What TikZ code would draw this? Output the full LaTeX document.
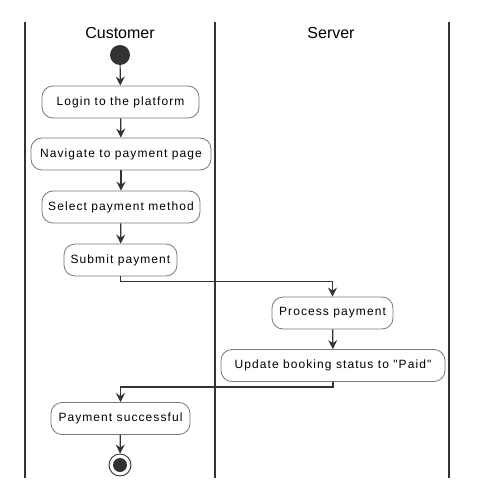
\documentclass[tikz,border=0pt]{standalone}
\usepackage{fontspec}
\setmainfont{Liberation Sans}
\newfontfamily\boxfont[LetterSpace=9]{Liberation Sans}
\definecolor{grisOscuro}{RGB}{51,51,51}
\definecolor{borde}{RGB}{120,120,120}
\usetikzlibrary{arrows.meta,positioning}
\tikzstyle{lane}  =[line width=1.8pt, grisOscuro]
\tikzstyle{title} =[font=\fontsize{16}{18}\selectfont]
\tikzstyle{action}=[draw=borde, rounded corners=11pt, line width=0.8pt,
                    minimum height=32pt, inner xsep=4pt,
                    font=\boxfont\fontsize{12}{14}\selectfont]
\tikzstyle{flow}  =[grisOscuro, line width=1.2pt,
                    -{Stealth[length=9pt,width=9pt,inset=3pt]}]
\tikzstyle{begin} =[circle, fill=grisOscuro, minimum size=20pt,
                    inner sep=0pt]
\tikzstyle{final} =[circle, draw=grisOscuro, line width=0.9pt,
                    minimum size=22pt, inner sep=0pt,
                    path picture={\fill[grisOscuro] (path picture bounding box.center) circle (7pt);}]

\begin{document}
\begin{tikzpicture}[x=1pt,y=-1pt]
    \useasboundingbox (0,0) rectangle (480,500);

    % swimlanes
    \foreach \x in {25,215,449}
        \draw [lane] (\x,22) -- (\x,478);
    \node [title] (customer) at (120,33) {Customer};
    \node [title] (server) at (331,33) {Server};

    % customer side
    \node [begin] (start) at (120,55) {};
    \node [action, minimum width=157pt] (login) at (120.5,102) {Login to the platform};
    \node [action, minimum width=180pt] (navigate) at (121,154) {Navigate to payment page};
    \node [action, minimum width=158pt] (select) at (121,207) {Select payment method};
    \node [action, minimum width=113pt] (submit) at (120.5,260) {Submit payment};

    % server side
    \node [action, minimum width=121pt] (process) at (332.5,313) {Process payment};
    \node [action, minimum width=224pt] (update) at (333,365.5) {Update booking status to "Paid"};

    % back to customer
    \node [action, minimum width=139pt] (success) at (120.5,418.5) {Payment successful};
    \node [final] (end) at (120,465) {};

    \foreach \i/\j in {start/login,login/navigate,navigate/select,select/submit,
        process/update,success/end}
        \draw [flow] (\i) -- (\j);
    \draw [flow] (submit.south) -- ++(0,5) -| (process.north);
    \draw [flow] (update.south) -- ++(0,5) -| (success.north);
\end{tikzpicture}
\end{document}
